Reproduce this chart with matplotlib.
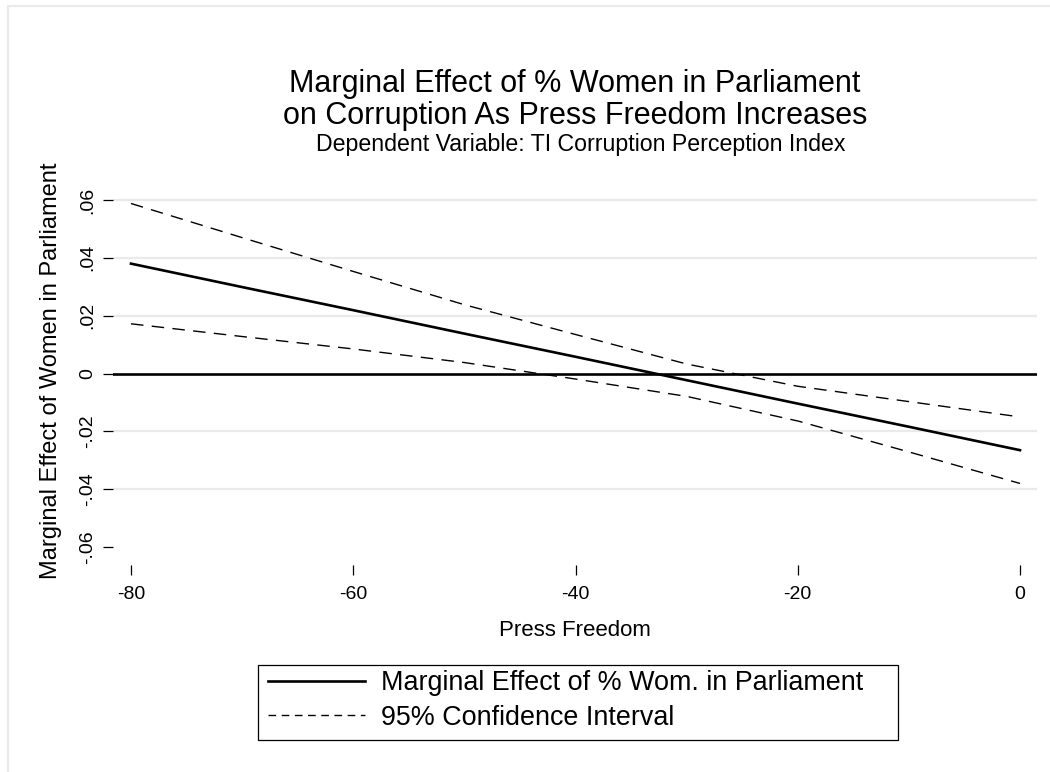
import matplotlib
matplotlib.use('Agg')
from matplotlib import pyplot as plt
from matplotlib.patches import Rectangle
from matplotlib.lines import Line2D

plt.rcParams['font.family'] = ['Liberation Sans', 'DejaVu Sans']

# press freedom values and marginal effects
press = [-80, -70, -60, -50, -40, -30, -20, -10, 0]
effect = [0.0380, 0.0299, 0.0219, 0.0138, 0.0058, -0.0023, -0.0104, -0.0184, -0.0265]
ci_upper = [0.0588, 0.0470, 0.0353, 0.0238, 0.0135, 0.0033, -0.0044, -0.0097, -0.0150]
ci_lower = [0.0172, 0.0128, 0.0085, 0.0038, -0.0019, -0.0079, -0.0164, -0.0271, -0.0380]

yticks = [-0.06, -0.04, -0.02, 0, 0.02, 0.04, 0.06]
ytick_labels = ['-.06', '-.04', '-.02', '0', '.02', '.04', '.06']
xticks = [-80, -60, -40, -20, 0]

W, H = 1050, 772
fig = plt.figure(figsize=(W / 100, H / 100), dpi=100)

# light outer frame (stata graph region), cut off at right and bottom
fig.patches.append(Rectangle((8 / W, -0.1), 1.2, 1.1 - 6 / H, transform=fig.transFigure,
                             fill=False, edgecolor='#ebebeb', linewidth=1.6, zorder=0))

ax = fig.add_axes([113 / W, 1 - 565 / H, (1037 - 113) / W, (565 - 187) / H])
ax.set_xlim(-81.62, 1.53)
ax.set_ylim(-0.0662, 0.0645)

for g in [0.06, 0.04, 0.02, -0.02, -0.04]:
    ax.axhline(g, color='#eaeaea', linewidth=1.6, zorder=1)
ax.axhline(0, color='black', linewidth=1.9, zorder=2)

ax.plot(press, effect, color='black', linewidth=1.9, zorder=3)
ax.plot(press, ci_upper, color='black', linewidth=1.0, dashes=(9, 6), zorder=3)
ax.plot(press, ci_lower, color='black', linewidth=1.0, dashes=(9, 6), zorder=3)

for s in ax.spines.values():
    s.set_visible(False)

ax.set_yticks(yticks)
ax.set_yticklabels(ytick_labels, rotation=90, va='center')
ax.set_xticks(xticks)
ax.set_xticklabels([str(v) for v in xticks])
ax.tick_params(axis='both', length=7, width=0.9, color='black', labelsize=14)
ax.tick_params(axis='y', pad=5)
ax.tick_params(axis='x', pad=8)

ax.set_xlabel('Press Freedom', fontsize=16, labelpad=12)
ax.set_ylabel('Marginal Effect of Women in Parliament', fontsize=17)
ax.yaxis.set_label_coords(-0.055, 0.513)

fig.text(575 / W, 1 - 100 / H,
         'Marginal Effect of % Women in Parliament\non Corruption As Press Freedom Increases',
         ha='center', va='center', fontsize=22, linespacing=1.05)
fig.text(581 / W, 1 - 144 / H, 'Dependent Variable: TI Corruption Perception Index',
         ha='center', va='center', fontsize=16.7)

# legend box drawn separately, content anchored at the left
fig.patches.append(Rectangle((258 / W, 1 - 740 / H), (898 - 258) / W, 75 / H,
                             transform=fig.transFigure, fill=False,
                             edgecolor='black', linewidth=0.9, zorder=5))
handles = [Line2D([], [], color='black', linewidth=1.9),
           Line2D([], [], color='black', linewidth=1.0, dashes=(5.5, 4))]
leg = fig.legend(handles, ['Marginal Effect of % Wom. in Parliament', '95% Confidence Interval'],
                 loc='center left', bbox_to_anchor=(246 / W, 1 - 700.5 / H), fontsize=19.4,
                 frameon=False, handlelength=3.6, handletextpad=0.6, borderpad=0.3,
                 labelspacing=0.3)

fig.savefig('out.png', dpi=100, facecolor='white')
